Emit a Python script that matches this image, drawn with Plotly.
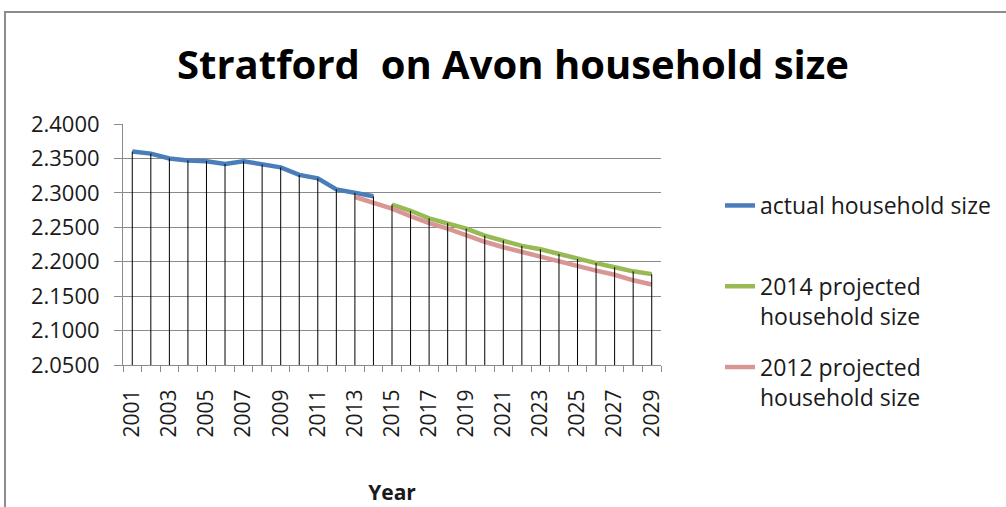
import plotly.graph_objects as go

# ---- data ----
years_actual = [2001, 2002, 2003, 2004, 2005, 2006, 2007, 2008, 2009, 2010, 2011, 2012, 2013, 2014]
actual = [2.360, 2.357, 2.350, 2.347, 2.346, 2.342, 2.346, 2.341, 2.337, 2.326, 2.321, 2.305, 2.300, 2.295]

years_p2014 = [2015, 2016, 2017, 2018, 2019, 2020, 2021, 2022, 2023, 2024, 2025, 2026, 2027, 2028, 2029]
proj2014 = [2.283, 2.274, 2.263, 2.256, 2.248, 2.238, 2.231, 2.223, 2.218, 2.211, 2.204, 2.198, 2.192, 2.186, 2.182]

years_p2012 = [2013, 2014, 2015, 2016, 2017, 2018, 2019, 2020, 2021, 2022, 2023, 2024, 2025, 2026, 2027, 2028, 2029]
proj2012 = [2.294, 2.285, 2.277, 2.266, 2.256, 2.248, 2.238, 2.229, 2.221, 2.214, 2.208, 2.201, 2.193, 2.187, 2.181, 2.173, 2.167]

tick_years = [2001, 2003, 2005, 2007, 2009, 2011, 2013, 2015, 2017, 2019, 2021, 2023, 2025, 2027, 2029]
y_min, y_max = 2.05, 2.40

# ---- layout geometry (pixels) ----
W, H = 1006, 507
ML, MR, MT, MB = 123, 345, 124, 142
PW = W - ML - MR
PH = H - MT - MB


def px(xp):
    return (xp - ML) / PW


def py(yp):
    return (H - MB - yp) / PH


BLUE = '#4A7EBB'
GREEN = '#98B954'
PINK = '#D99694'
GRID = '#8a8a8a'
TXT = '#1a1a1a'
FONT = 'Open Sans'

# drop lines: from highest series value at each year down to axis minimum
series = [(years_actual, actual), (years_p2014, proj2014), (years_p2012, proj2012)]
top = {}
for xs, ys in series:
    for xv, yv in zip(xs, ys):
        top[xv] = max(top.get(xv, -1e9), yv)
drop_x, drop_y = [], []
for xv in sorted(top):
    drop_x += [xv, xv, None]
    drop_y += [top[xv], y_min, None]

fig = go.Figure()
fig.add_trace(go.Scatter(x=years_actual, y=actual, mode='lines', name='actual household size<br> ',
                         line=dict(color=BLUE, width=4.5), legendgroup='a'))
fig.add_trace(go.Scatter(x=years_p2014, y=proj2014, mode='lines', name='2014 projected<br>household size',
                         line=dict(color=GREEN, width=4.5), legendgroup='b'))
fig.add_trace(go.Scatter(x=years_p2012, y=proj2012, mode='lines', name='2012 projected<br>household size',
                         line=dict(color=PINK, width=4.5), legendgroup='c'))
fig.add_trace(go.Scatter(x=drop_x, y=drop_y, mode='lines', showlegend=False, hoverinfo='skip',
                         line=dict(color='black', width=1)))

fig.update_layout(
    width=W, height=H,
    margin=dict(l=ML, r=MR, t=MT, b=MB, autoexpand=False),
    paper_bgcolor='white', plot_bgcolor='white',
    font=dict(family=FONT, color=TXT),
    title=dict(text='<b>Stratford  on Avon household size</b>', x=513 / W, xanchor='center',
               y=1 - 65 / H, yanchor='middle', font=dict(family=FONT, size=40, color='black')),
    legend=dict(x=px(720), xanchor='left', y=py(184), yanchor='top', valign='top',
                font=dict(family=FONT, size=23, color=TXT), tracegroupgap=18,
                bgcolor='rgba(0,0,0,0)'),
    showlegend=True,
)

fig.update_xaxes(
    range=[2000.5, 2029.5], tickmode='array', tickvals=tick_years,
    ticktext=[str(t) for t in tick_years], tickangle=-90,
    ticks='outside', ticklen=6, tickcolor='rgba(0,0,0,0)', ticklabelstandoff=9,
    tickfont=dict(family=FONT, size=21, color=TXT),
    showgrid=False, zeroline=False, showline=True, linecolor=GRID, linewidth=1,
    minor=dict(tickmode='linear', tick0=2000.5, dtick=1, ticks='outside', ticklen=6,
               tickcolor=GRID, showgrid=False),
    title=dict(text='<b>Year</b>', font=dict(family=FONT, size=21, color=TXT), standoff=48),
)
fig.update_yaxes(
    range=[y_min, y_max], tickmode='linear', tick0=2.05, dtick=0.05, tickformat='.4f',
    ticks='outside', ticklen=8, tickcolor=GRID, ticklabelstandoff=10,
    tickfont=dict(family=FONT, size=22, color=TXT),
    showgrid=True, gridcolor=GRID, gridwidth=1, zeroline=False,
    showline=True, linecolor=GRID, linewidth=1,
)

# chart outer border (top and left visible)
fig.add_shape(type='path', xref='paper', yref='paper',
              path=f'M {px(5)} {py(520)} L {px(5)} {py(12)} L {px(1012)} {py(12)}',
              line=dict(color='#8c8c8c', width=2))

fig.write_html('out.html')
